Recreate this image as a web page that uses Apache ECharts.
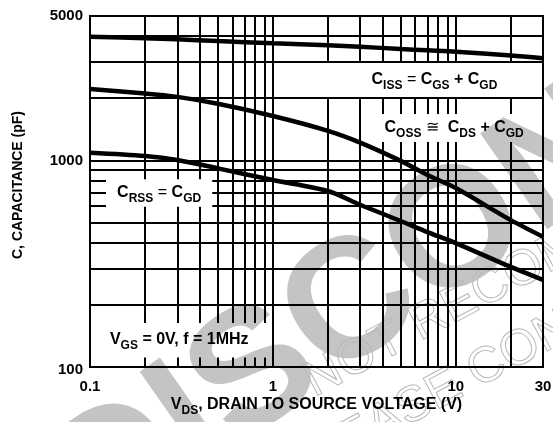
<!DOCTYPE html>
<html><head><meta charset="utf-8">
<script src="https://cdn.jsdelivr.net/npm/echarts@6/dist/echarts.min.js"></script>
<style>html,body{margin:0;padding:0;background:#fff}#c{width:553px;height:422px}</style>
</head><body><div id="c"></div>
<script>
// ---- data ----
const vds  = [0.1, 0.2, 0.3, 0.5, 1, 2, 3, 5, 7, 10, 20, 30];
const ciss = [3970, 3900, 3860, 3780, 3690, 3610, 3550, 3460, 3410, 3360, 3220, 3120];
const coss = [2216, 2110, 2030, 1880, 1640, 1390, 1220, 995, 850, 735, 514, 427];
const crss = [1089, 1050, 1005, 915, 804, 711, 610, 509, 450, 398, 305, 264];
const xTickValues = [0.1, 1, 10, 30];
const xTickLabels = ['0.1', '1', '10', '30'];
const yTickValues = [100, 1000, 5000];
const yTickLabels = ['100', '1000', '5000'];
const xGrid = [0.1,0.2,0.3,0.4,0.5,0.6,0.7,0.8,0.9,1,2,3,4,5,6,7,8,9,10,20,30];
const yGrid = [100,200,300,400,500,600,700,800,900,1000,2000,3000,4000,5000];
// label areas (data coords) where the grid is left open: [x0, x1, y0, y1]
const boxes = {
  ciss: [1.95, 30, 2000, 3000],
  coss: [3.2, 30, 1214, 1695],
  crss: [0.1208, 0.472, 590, 820],
  vgs:  [0.1, 0.946, 110, 165]
};
const X_MIN = 0.1, X_MAX = 30, Y_MIN = 100, Y_MAX = 5000;

const FONT = '"Liberation Sans", Arial, Helvetica, sans-serif';

function cut(ranges, a, b) {
  const out = [];
  ranges.forEach(([s, e]) => {
    if (b <= s || a >= e) { out.push([s, e]); return; }
    if (a > s) out.push([s, a]);
    if (b < e) out.push([b, e]);
  });
  return out;
}
function gridSegments() {
  const segs = [];
  const bl = Object.values(boxes);
  xGrid.forEach(v => {
    let r = [[Y_MIN, Y_MAX]];
    if (v !== X_MIN && v !== X_MAX) bl.forEach(b => { if (v >= b[0] && v <= b[1]) r = cut(r, b[2], b[3]); });
    r.forEach(s => segs.push({ coords: [[v, s[0]], [v, s[1]]] }));
  });
  yGrid.forEach(v => {
    let r = [[X_MIN, X_MAX]];
    if (v !== Y_MIN && v !== Y_MAX) bl.forEach(b => { if (v > b[2] && v < b[3]) r = cut(r, b[0], b[1]); });
    r.forEach(s => segs.push({ coords: [[s[0], v], [s[1], v]] }));
  });
  return segs;
}
const pair = (xs, ys) => xs.map((x, i) => [x, ys[i]]);

const chart = echarts.init(document.getElementById('c'), null, { renderer: 'canvas' });
const curveStyle = { color: '#000', width: 4.5 };
chart.setOption({
  animation: false,
  backgroundColor: '#fff',
  grid: { left: 90, right: 10, top: 16, bottom: 55, containLabel: false },
  xAxis: { type: 'log', logBase: 10, min: X_MIN, max: X_MAX,
    axisLine: { show: false }, axisTick: { show: false }, axisLabel: { show: false }, splitLine: { show: false } },
  yAxis: { type: 'log', logBase: 10, min: Y_MIN, max: Y_MAX,
    axisLine: { show: false }, axisTick: { show: false }, axisLabel: { show: false }, splitLine: { show: false } },
  series: [
    { type: 'lines', coordinateSystem: 'cartesian2d', silent: true, z: 1,
      lineStyle: { color: '#000', width: 2, opacity: 1, cap: 'square' },
      data: gridSegments() },
    { name: 'Ciss', type: 'line', data: pair(vds, ciss), smooth: 0.3, showSymbol: false, z: 5, lineStyle: curveStyle, itemStyle: { color: '#000' } },
    { name: 'Coss', type: 'line', data: pair(vds, coss), smooth: 0.3, showSymbol: false, z: 5, lineStyle: curveStyle, itemStyle: { color: '#000' } },
    { name: 'Crss', type: 'line', data: pair(vds, crss), smooth: 0.3, showSymbol: false, z: 5, lineStyle: curveStyle, itemStyle: { color: '#000' } }
  ]
});

const px = (x, y) => chart.convertToPixel({ gridIndex: 0 }, [x, y]);
const boxCenter = b => { const p0 = px(b[0], b[2]), p1 = px(b[1], b[3]); return [(p0[0] + p1[0]) / 2, (p0[1] + p1[1]) / 2]; };

const rich = {
  m: { fontSize: 16, fontWeight: 'bold', fontFamily: FONT, color: '#000', lineHeight: 17, verticalAlign: 'top' },
  e: { fontSize: 16, fontWeight: 'normal', fontFamily: FONT, color: '#000', lineHeight: 17, verticalAlign: 'top' },
  s: { fontSize: 12, fontWeight: 'bold', fontFamily: FONT, color: '#000', lineHeight: 12, verticalAlign: 'top', padding: [8, 0, 0, 0] }
};
function label(text, pos, extra) {
  return Object.assign({ type: 'text', x: pos[0], y: pos[1], z: 30,
    style: { text, rich, align: 'center', verticalAlign: 'middle', fontFamily: FONT } }, extra || {});
}

const graphic = [];
// watermark
graphic.push({ type: 'text', x: 600, y: 135, rotation: 35 * Math.PI / 180, z: -10, silent: true,
  style: { text: 'DISCONTINUED', fontSize: 170, fontWeight: 'bold', fontFamily: FONT, fill: '#c4c4c4', align: 'center', verticalAlign: 'middle' } });
graphic.push({ type: 'text', x: 308, y: 385, rotation: 28 * Math.PI / 180, z: -9, silent: true,
  style: { text: 'NOT RECOMMENDED FOR NEW DESIGN', fontSize: 50, fontFamily: FONT, fill: 'rgba(255,255,255,0)', stroke: '#b8b8b8', lineWidth: 1, align: 'left', verticalAlign: 'middle' } });
graphic.push({ type: 'text', x: 287, y: 474, rotation: 28 * Math.PI / 180, z: -9, silent: true,
  style: { text: 'PLEASE CONTACT', fontSize: 50, fontFamily: FONT, fill: 'rgba(255,255,255,0)', stroke: '#b8b8b8', lineWidth: 1, align: 'left', verticalAlign: 'middle' } });

// tick labels
xTickValues.forEach((v, i) => {
  const p = px(v, Y_MIN);
  graphic.push({ type: 'text', x: p[0], y: p[1] + 20, z: 30,
    style: { text: xTickLabels[i], fontSize: 15, fontWeight: 'bold', fontFamily: FONT, fill: '#000', align: 'center', verticalAlign: 'middle' } });
});
yTickValues.forEach((v, i) => {
  const p = px(X_MIN, v);
  graphic.push({ type: 'text', x: p[0] - 7, y: p[1] + (i === 0 ? 3 : 0), z: 30,
    style: { text: yTickLabels[i], fontSize: 15, fontWeight: 'bold', fontFamily: FONT, fill: '#000', align: 'right', verticalAlign: 'middle' } });
});
// axis names
const pBL = px(X_MIN, Y_MIN), pTR = px(X_MAX, Y_MAX);
graphic.push(label('{m|V}{s|DS}{m|, DRAIN TO SOURCE VOLTAGE (V)}', [(pBL[0] + pTR[0]) / 2, pBL[1] + 38]));
graphic.push({ type: 'text', x: 18, y: 185, rotation: Math.PI / 2, z: 30,
  style: { text: 'C, CAPACITANCE (pF)', fontSize: 14, fontWeight: 'bold', fontFamily: FONT, fill: '#000', align: 'center', verticalAlign: 'middle' } });

// curve annotations
graphic.push(label('{m|C}{s|ISS}{e| = }{m|C}{s|GS}{m| + C}{s|GD}', boxCenter(boxes.ciss)));
graphic.push(label('{m|C}{s|OSS}{e| ≅  }{m|C}{s|DS}{m| + C}{s|GD}', boxCenter(boxes.coss)));
graphic.push(label('{m|C}{s|RSS}{e| = }{m|C}{s|GD}', boxCenter(boxes.crss)));
graphic.push(label('{m|V}{s|GS}{m| = 0V, f = 1MHz}', boxCenter(boxes.vgs)));

chart.setOption({ graphic });
</script>
</body></html>
